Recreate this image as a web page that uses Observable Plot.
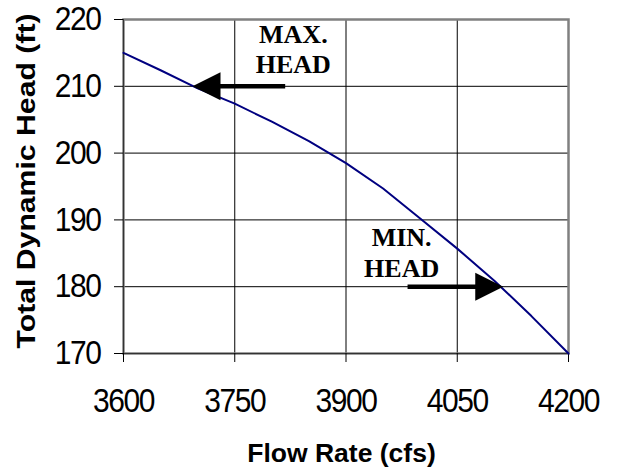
<!DOCTYPE html>
<html><head><meta charset="utf-8">
<script src="https://cdn.jsdelivr.net/npm/d3@7"></script>
<script src="https://cdn.jsdelivr.net/npm/@observablehq/plot@0.6"></script>
<style>
body{margin:0;background:#fff}
g[aria-label="x-axis tick label"] text, g[aria-label="y-axis tick label"] text {letter-spacing:-1.4px}
</style></head><body><div id="chart"></div>
<script>
const flow = [3600, 3650, 3700, 3750, 3800, 3850, 3900, 3950, 4000, 4050, 4100, 4150, 4200];
const head = [215, 212.4, 209.7, 207.4, 204.7, 201.8, 198.5, 194.7, 190.2, 185.7, 180.9, 175.6, 170];
const xTicks = [3600, 3750, 3900, 4050, 4200];
const yTicks = [170, 180, 190, 200, 210, 220];
const xTitle = "Flow Rate (cfs)";
const yTitle = "Total Dynamic Head (ft)";
const noteText = ["MAX.", "HEAD", "MIN.", "HEAD"];
const noteFlow = [3829, 3829, 3975, 3975];
const noteHead = [217.7, 213.3, 187.3, 182.7];
const arrowFrom = [3818, 3983];
const arrowTo = [3693, 4112];
const arrowBase = [3715, 4090];
const arrowHead = [210, 180];

const curve = flow.map((f, i) => ({flow: f, head: head[i]}));
const notes = noteText.map((t, i) => ({t, x: noteFlow[i], y: noteHead[i]}));
const shafts = arrowFrom.map((f, i) => ({x1: f, x2: arrowBase[i], y: arrowHead[i]}));

const triLeft = {draw(ctx) { ctx.moveTo(0, 0); ctx.lineTo(28, -14); ctx.lineTo(28, 14); ctx.closePath(); }};
const triRight = {draw(ctx) { ctx.moveTo(0, 0); ctx.lineTo(-28, -14); ctx.lineTo(-28, 14); ctx.closePath(); }};

const chart = Plot.plot({
  width: 619,
  height: 471,
  marginLeft: 123,
  marginRight: 51,
  marginTop: 19,
  marginBottom: 118,
  style: {fontFamily: "'Liberation Sans', Arial, sans-serif", background: "#fff", color: "#000"},
  x: {domain: [3600, 4200]},
  y: {domain: [170, 220]},
  marks: [
    Plot.gridX([3750, 3900, 4050], {stroke: "#000", strokeOpacity: 1, strokeWidth: 1}),
    Plot.gridY([180, 190, 200, 210], {stroke: "#000", strokeOpacity: 1, strokeWidth: 1}),
    Plot.frame({stroke: "#808080", strokeWidth: 2.5}),
    Plot.ruleX([3600], {stroke: "#333", strokeWidth: 1}),
    Plot.ruleY([170], {stroke: "#333", strokeWidth: 1}),
    Plot.axisX({ticks: xTicks, tickSize: 9, tickPadding: 26, fontSize: 30, label: null, tickFormat: d => `${d}`, stroke: "#000"}),
    Plot.axisY({ticks: yTicks, tickSize: 9, tickPadding: 14, fontSize: 30, label: null, tickFormat: d => `${d}`, stroke: "#000"}),
    Plot.line(curve, {x: "flow", y: "head", stroke: "#000080", strokeWidth: 2}),
    Plot.link(shafts, {x1: "x1", x2: "x2", y1: "y", y2: "y", stroke: "#000", strokeWidth: 4.5}),
    Plot.dot([0], {x: () => arrowTo[0], y: () => arrowHead[0], symbol: triLeft, fill: "#000", stroke: "none"}),
    Plot.dot([1], {x: () => arrowTo[1], y: () => arrowHead[1], symbol: triRight, fill: "#000", stroke: "none"}),
    Plot.text(notes, {x: "x", y: "y", text: "t", fontFamily: "'Liberation Serif', 'Times New Roman', serif", fontWeight: "bold", fontSize: 26, textAnchor: "middle", lineAnchor: "middle", fill: "#000"}),
    Plot.text([xTitle], {text: d => d, frameAnchor: "bottom", dx: -4.5, dy: 100.5, fontSize: 26.5, fontWeight: "bold", lineAnchor: "middle", fill: "#000"}),
    Plot.text([yTitle], {text: d => d, frameAnchor: "left", rotate: -90, dx: -97, dy: 162, fontSize: 26, fontWeight: "bold", textAnchor: "start", lineAnchor: "middle", fill: "#000"})
  ]
});
document.getElementById("chart").appendChild(chart);
d3.select(chart).selectAll("text").each(function() {
  if (this.textContent === yTitle) {
    this.setAttribute("textLength", 335);
    this.setAttribute("lengthAdjust", "spacingAndGlyphs");
  }
});
d3.select(chart).selectAll('g[aria-label="x-axis tick label"] text, g[aria-label="y-axis tick label"] text')
  .attr("transform", function() { return (this.getAttribute("transform") || "") + " scale(1,1.12)"; });
</script></body></html>
